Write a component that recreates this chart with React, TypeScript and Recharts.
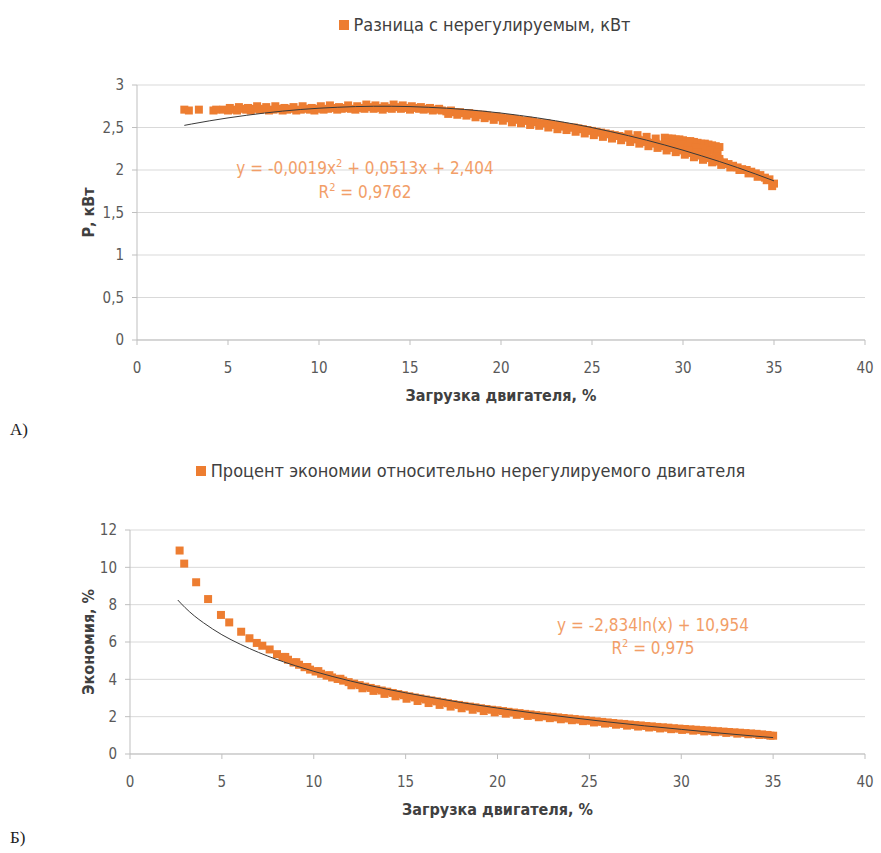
import React from 'react';
import { ScatterChart, Scatter, XAxis, YAxis, CartesianGrid, Legend, ZAxis } from 'recharts';

const ORANGE = '#ED7D31';
const EQ_COLOR = '#F29E68';
const FONT = "'DejaVu Sans Condensed', 'Liberation Sans Narrow', sans-serif";

type Pt = [number, number];

// ---------- Chart A: difference, kW ----------
const loadTicks = [0, 5, 10, 15, 20, 25, 30, 35, 40];
const diffTicks = [0, 0.5, 1, 1.5, 2, 2.5, 3];

const diffEarly: Pt[] = [[2.6, 2.71], [2.85, 2.7], [3.4, 2.71], [4.2, 2.7], [4.35, 2.71]];

const diffMain: Pt[] = [
  [4.75, 2.71], [5.0, 2.7], [5.25, 2.71], [5.5, 2.7], [5.75, 2.72], [6.0, 2.71], [6.25, 2.7], [6.5, 2.72], [6.75, 2.71],
  [7.0, 2.72], [7.25, 2.7], [7.5, 2.71], [7.75, 2.72], [8.0, 2.7], [8.25, 2.71], [8.5, 2.72], [8.75, 2.7], [9.0, 2.71],
  [9.25, 2.72], [9.5, 2.71], [9.75, 2.7], [10.0, 2.72], [10.25, 2.71], [10.5, 2.72], [10.75, 2.73], [11.0, 2.71],
  [11.25, 2.72], [11.5, 2.73], [11.75, 2.72], [12.0, 2.71], [12.25, 2.73], [12.5, 2.72], [12.75, 2.74], [13.0, 2.72],
  [13.25, 2.73], [13.5, 2.71], [13.75, 2.73], [14.0, 2.72], [14.25, 2.74], [14.5, 2.72], [14.75, 2.73], [15.0, 2.71],
  [15.25, 2.73], [15.5, 2.72], [15.75, 2.71], [16.0, 2.72], [16.25, 2.7], [16.5, 2.71], [16.75, 2.7], [17.0, 2.69],
  [17.25, 2.7], [17.5, 2.68], [17.75, 2.68], [18.0, 2.67], [18.25, 2.67], [18.5, 2.66], [18.75, 2.65], [19.0, 2.65],
  [19.25, 2.64], [19.5, 2.63], [19.75, 2.63], [20.0, 2.62], [20.25, 2.61], [20.5, 2.61], [20.75, 2.6], [21.0, 2.59],
  [21.25, 2.58], [21.5, 2.58], [21.75, 2.57], [22.0, 2.56], [22.25, 2.55], [22.5, 2.55], [22.75, 2.54], [23.0, 2.53],
  [23.25, 2.52], [23.5, 2.51], [23.75, 2.5], [24.0, 2.5], [24.25, 2.49], [24.5, 2.48], [24.75, 2.47], [25.0, 2.46],
  [25.25, 2.45], [25.5, 2.44], [25.75, 2.43], [26.0, 2.42], [26.25, 2.41], [26.5, 2.4], [26.75, 2.39], [27.0, 2.38],
  [27.25, 2.37], [27.5, 2.36], [27.75, 2.35], [28.0, 2.33], [28.25, 2.32], [28.5, 2.31], [28.75, 2.3], [29.0, 2.28],
  [29.25, 2.27], [29.5, 2.26], [29.75, 2.24], [30.0, 2.23], [30.25, 2.21], [30.5, 2.2], [30.75, 2.18], [31.0, 2.17],
  [31.25, 2.15], [31.5, 2.14], [31.75, 2.12], [32.0, 2.1], [32.25, 2.09], [32.5, 2.07], [32.75, 2.05], [33.0, 2.03],
  [33.25, 2.01], [33.5, 2.0], [33.75, 1.98], [34.0, 1.96], [34.25, 1.94], [34.5, 1.91], [34.75, 1.89], [35.0, 1.84],
];

const diffSecond: Pt[] = [
  [5.1, 2.73], [5.6, 2.74], [6.1, 2.73], [6.6, 2.75], [7.1, 2.74], [7.6, 2.75], [8.1, 2.73], [8.6, 2.74], [9.1, 2.75],
  [9.6, 2.73], [10.1, 2.75], [10.6, 2.76], [11.1, 2.74], [11.6, 2.76], [12.1, 2.75], [12.6, 2.77], [13.1, 2.76],
  [13.6, 2.75], [14.1, 2.77], [14.6, 2.76], [15.1, 2.75], [15.6, 2.74], [16.1, 2.73], [16.6, 2.72],
  [17.1, 2.66], [17.6, 2.65], [18.1, 2.64], [18.6, 2.62], [19.1, 2.61], [19.6, 2.59], [20.1, 2.58], [20.6, 2.56],
  [21.1, 2.55], [21.6, 2.53], [22.1, 2.52], [22.6, 2.5], [23.1, 2.48], [23.6, 2.47], [24.1, 2.45], [24.6, 2.43],
  [25.1, 2.41], [25.6, 2.39], [26.1, 2.37], [26.6, 2.35], [27.1, 2.33], [27.6, 2.31], [28.1, 2.28], [28.6, 2.26],
  [29.1, 2.23], [29.6, 2.21], [30.1, 2.18], [30.6, 2.15], [31.1, 2.12], [31.6, 2.09], [32.1, 2.06], [32.6, 2.03],
  [33.1, 2.0], [33.6, 1.96], [34.1, 1.92], [34.6, 1.88], [34.9, 1.81],
];

const diffUpper: Pt[] = [
  [27.0, 2.42], [27.5, 2.41], [28.0, 2.39], [28.5, 2.37], [29.0, 2.38], [29.2, 2.37], [29.4, 2.37], [29.6, 2.36],
  [29.8, 2.36], [30.0, 2.35], [30.2, 2.34], [30.4, 2.34], [30.6, 2.33], [30.8, 2.32], [31.0, 2.31], [31.2, 2.31],
  [31.4, 2.3], [31.6, 2.29], [31.8, 2.28], [32.0, 2.27],
  [29.1, 2.32], [29.5, 2.31], [29.9, 2.3], [30.3, 2.28], [30.7, 2.27], [31.1, 2.25], [31.5, 2.23], [31.9, 2.21],
  [29.3, 2.27], [29.8, 2.25], [30.3, 2.23], [30.8, 2.21], [31.3, 2.18], [31.8, 2.16], [32.0, 2.13],
];

const diffTrend: Pt[] = [
  [2.6, 2.525], [3, 2.541], [4, 2.579], [5, 2.613], [6, 2.643], [7, 2.67], [8, 2.693], [9, 2.712], [10, 2.727],
  [11, 2.738], [12, 2.746], [13, 2.75], [14, 2.75], [15, 2.746], [16, 2.738], [17, 2.727], [18, 2.712], [19, 2.693],
  [20, 2.67], [21, 2.643], [22, 2.613], [23, 2.579], [24, 2.541], [25, 2.499], [26, 2.453], [27, 2.404], [28, 2.351],
  [29, 2.294], [30, 2.233], [31, 2.168], [32, 2.1], [33, 2.028], [34, 1.952], [35, 1.872],
];

// ---------- Chart B: saving, % ----------
const savingTicks = [0, 2, 4, 6, 8, 10, 12];

const savingEarly: Pt[] = [
  [2.7, 10.9], [2.95, 10.2], [3.6, 9.2], [4.25, 8.3], [4.95, 7.45], [5.4, 7.05], [6.05, 6.55], [6.5, 6.2],
  [6.9, 5.95], [7.2, 5.8], [7.6, 5.6],
];

const savingMain: Pt[] = [
  [8.0, 5.35], [8.3, 5.2], [8.6, 5.05], [8.9, 4.9], [9.2, 4.78], [9.5, 4.65], [9.8, 4.52], [10.1, 4.42], [10.4, 4.3],
  [10.7, 4.2], [11.0, 4.1], [11.3, 4.02], [11.6, 3.93], [11.9, 3.85], [12.2, 3.77], [12.5, 3.69], [12.8, 3.61],
  [13.1, 3.54], [13.4, 3.47], [13.7, 3.4], [14.0, 3.34], [14.3, 3.27], [14.6, 3.21], [14.9, 3.15], [15.2, 3.09],
  [15.5, 3.03], [15.8, 2.98], [16.1, 2.92], [16.4, 2.87], [16.7, 2.82], [17.0, 2.77], [17.3, 2.72], [17.6, 2.67],
  [17.9, 2.63], [18.2, 2.58], [18.5, 2.54], [18.8, 2.5], [19.1, 2.45], [19.4, 2.41], [19.7, 2.37], [20.0, 2.34],
  [20.3, 2.3], [20.6, 2.26], [20.9, 2.22], [21.2, 2.19], [21.5, 2.15], [21.8, 2.12], [22.1, 2.08], [22.4, 2.05],
  [22.7, 2.02], [23.0, 1.99], [23.3, 1.96], [23.6, 1.93], [23.9, 1.9], [24.2, 1.87], [24.5, 1.84], [24.8, 1.81],
  [25.1, 1.78], [25.4, 1.75], [25.7, 1.72], [26.0, 1.69], [26.3, 1.66], [26.6, 1.63], [26.9, 1.61], [27.2, 1.58],
  [27.5, 1.55], [27.8, 1.53], [28.1, 1.5], [28.4, 1.48], [28.7, 1.45], [29.0, 1.43], [29.3, 1.41], [29.6, 1.38],
  [29.9, 1.36], [30.2, 1.34], [30.5, 1.32], [30.8, 1.3], [31.1, 1.28], [31.4, 1.26], [31.7, 1.24], [32.0, 1.22],
  [32.3, 1.2], [32.6, 1.18], [32.9, 1.16], [33.2, 1.14], [33.5, 1.12], [33.8, 1.1], [34.1, 1.08], [34.4, 1.05],
  [34.7, 1.02], [35.0, 0.98],
];

const savingSecond: Pt[] = [
  [8.45, 5.2], [9.05, 4.92], [9.65, 4.66], [10.25, 4.44], [10.85, 4.22], [11.45, 4.03],
  [12.05, 3.68], [12.65, 3.52], [13.25, 3.38], [13.85, 3.22], [14.45, 3.09], [15.05, 2.96], [15.65, 2.84],
  [16.25, 2.73], [16.85, 2.63], [17.45, 2.54], [18.05, 2.45], [18.65, 2.37], [19.25, 2.3], [19.85, 2.23], [20.45, 2.16],
  [21.05, 2.1], [21.65, 2.04], [22.25, 1.97], [22.85, 1.92], [23.45, 1.86], [24.05, 1.81], [24.65, 1.76], [25.25, 1.69],
  [25.85, 1.63], [26.45, 1.57], [27.05, 1.52], [27.65, 1.47], [28.25, 1.42], [28.85, 1.37], [29.45, 1.33], [30.05, 1.29],
  [30.65, 1.25], [31.25, 1.21], [31.85, 1.17], [32.45, 1.13], [33.05, 1.09], [33.65, 1.06], [34.25, 1.02], [34.85, 0.98],
];

const savingTrend: Pt[] = [
  [2.6, 8.25], [3, 7.84], [3.5, 7.4], [4, 7.03], [5, 6.39], [6, 5.88], [7, 5.44], [8, 5.06], [9, 4.73], [10, 4.43],
  [12, 3.91], [14, 3.47], [16, 3.1], [18, 2.76], [20, 2.46], [22, 2.19], [24, 1.95], [26, 1.72], [28, 1.51], [30, 1.32],
  [32, 1.13], [34, 0.96], [35, 0.88],
];

const toPts = (arr: Pt[]) => arr.map(([x, y]) => ({ x, y }));
const comma = (v: number) => String(v).replace('.', ',');

const tickStyle = { fontSize: 15, fill: '#595959', fontFamily: FONT };
const titleStyle = { fontSize: 16, fontWeight: 700, fill: '#404040', fontFamily: FONT };
const supStyle = { fontSize: 11, lineHeight: 0 };

const LegendBox = ({ label }: { label: string }) => (
  <div style={{ display: 'flex', justifyContent: 'center', alignItems: 'center', fontFamily: FONT, fontSize: 18, color: '#404040' }}>
    <span style={{ width: 10, height: 10, background: ORANGE, marginRight: 5, display: 'inline-block' }} />
    <span>{label}</span>
  </div>
);

const NoShape = () => <g />;

const Eq = ({ cx, cy, gap, lines }: { cx: number; cy: number; gap: number; lines: React.ReactNode[] }) => (
  <div style={{ position: 'absolute', left: cx - 200, top: cy - gap / 2, width: 400, textAlign: 'center', fontFamily: FONT, fontSize: 17, color: EQ_COLOR, lineHeight: `${gap}px` }}>
    {lines.map((l, i) => <div key={i} style={{ height: gap }}>{l}</div>)}
  </div>
);

export default function App() {
  return (
    <div style={{ width: 873, height: 845 }}>
      <div style={{ position: 'absolute', left: 0, top: 0 }}>
        <ScatterChart width={881} height={420} margin={{ top: 64, right: 16, left: 77, bottom: 50 }}>
          <CartesianGrid vertical={false} stroke="#d9d9d9" />
          <ZAxis range={[81, 81]} />
          <XAxis type="number" dataKey="x" domain={[0, 40]} ticks={loadTicks} interval={0} height={30}
            tick={tickStyle} tickSize={5} tickMargin={17} axisLine={{ stroke: '#bfbfbf' }} tickLine={{ stroke: '#bfbfbf' }}
            label={{ value: 'Загрузка двигателя, %', position: 'bottom', offset: 20, style: titleStyle }} />
          <YAxis type="number" dataKey="y" domain={[0, 3]} ticks={diffTicks} interval={0} width={60}
            tick={tickStyle} tickSize={5} tickMargin={8} tickFormatter={comma} axisLine={{ stroke: '#bfbfbf' }} tickLine={{ stroke: '#bfbfbf' }}
            label={{ value: 'Р, кВт', angle: -90, position: 'insideLeft', offset: 11, style: { ...titleStyle, textAnchor: 'middle' } }} />
          <Legend verticalAlign="top" wrapperStyle={{ top: 14, left: 44, width: 881 }} content={() => <LegendBox label="Разница с нерегулируемым, кВт" />} />
          <Scatter name="diffEarly" data={toPts(diffEarly)} fill={ORANGE} shape="square" isAnimationActive={false} />
          <Scatter name="diffMain" data={toPts(diffMain)} fill={ORANGE} shape="square" isAnimationActive={false} />
          <Scatter name="diffSecond" data={toPts(diffSecond)} fill={ORANGE} shape="square" isAnimationActive={false} />
          <Scatter name="diffUpper" data={toPts(diffUpper)} fill={ORANGE} shape="square" isAnimationActive={false} />
          <Scatter name="diffTrend" data={toPts(diffTrend)} line={{ stroke: '#3a3a3a', strokeWidth: 1 }} lineJointType="monotoneX" shape={NoShape} isAnimationActive={false} />
        </ScatterChart>
      </div>
      <Eq cx={365} cy={168} gap={24} lines={[<span>y = -0,0019x<sup style={supStyle}>2</sup> + 0,0513x + 2,404</span>, <span>R<sup style={supStyle}>2</sup> = 0,9762</span>]} />
      <div style={{ position: 'absolute', left: 10, top: 420, fontFamily: "'Liberation Serif', serif", fontSize: 17, color: '#222' }}>А)</div>

      <div style={{ position: 'absolute', left: 0, top: 430 }}>
        <ScatterChart width={881} height={420} margin={{ top: 79, right: 16, left: 70, bottom: 66 }}>
          <CartesianGrid vertical={false} stroke="#d9d9d9" />
          <ZAxis range={[81, 81]} />
          <XAxis type="number" dataKey="x" domain={[0, 40]} ticks={loadTicks} interval={0} height={30}
            tick={tickStyle} tickSize={5} tickMargin={17} axisLine={{ stroke: '#bfbfbf' }} tickLine={{ stroke: '#bfbfbf' }}
            label={{ value: 'Загрузка двигателя, %', position: 'bottom', offset: 20, style: titleStyle }} />
          <YAxis type="number" dataKey="y" domain={[0, 12]} ticks={savingTicks} interval={0} width={60}
            tick={tickStyle} tickSize={5} tickMargin={8} axisLine={{ stroke: '#bfbfbf' }} tickLine={{ stroke: '#bfbfbf' }}
            label={{ value: 'Экономия, %', angle: -90, position: 'insideLeft', offset: 18, style: { ...titleStyle, textAnchor: 'middle' } }} />
          <Legend verticalAlign="top" wrapperStyle={{ top: 30, left: 30, width: 881 }} content={() => <LegendBox label="Процент экономии относительно нерегулируемого двигателя" />} />
          <Scatter name="savingEarly" data={toPts(savingEarly)} fill={ORANGE} shape="square" isAnimationActive={false} />
          <Scatter name="savingMain" data={toPts(savingMain)} fill={ORANGE} shape="square" isAnimationActive={false} />
          <Scatter name="savingSecond" data={toPts(savingSecond)} fill={ORANGE} shape="square" isAnimationActive={false} />
          <Scatter name="savingTrend" data={toPts(savingTrend)} line={{ stroke: '#3a3a3a', strokeWidth: 1 }} lineJointType="monotoneX" shape={NoShape} isAnimationActive={false} />
        </ScatterChart>
      </div>
      <Eq cx={653} cy={625} gap={23} lines={[<span>y = -2,834ln(x) + 10,954</span>, <span>R<sup style={supStyle}>2</sup> = 0,975</span>]} />
      <div style={{ position: 'absolute', left: 10, top: 828, fontFamily: "'Liberation Serif', serif", fontSize: 17, color: '#222' }}>Б)</div>
    </div>
  );
}
